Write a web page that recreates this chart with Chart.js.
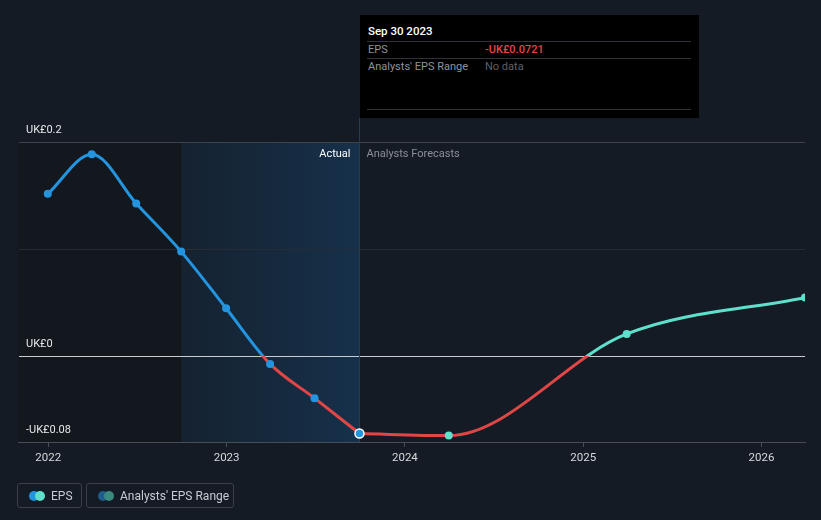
<!DOCTYPE html>
<html>
<head>
<meta charset="utf-8">
<script src="https://cdn.jsdelivr.net/npm/chart.js@4/dist/chart.umd.min.js"></script>
<style>
  html, body { margin: 0; padding: 0; background: #151b24; }
  #wrap { position: relative; width: 821px; height: 520px; font-family: Roboto, "Noto Sans", sans-serif; }
  #c { position: absolute; left: 0; top: 0; }
  #tip { position: absolute; left: 360px; top: 15px; width: 339px; height: 103px; background: #000; font-size: 11px; }
  #tip .row { position: absolute; left: 7px; right: 8px; border-top: 1px solid #2e3238; }
  #tip .t { position: absolute; white-space: nowrap; line-height: 13px; }
  .leg { position: absolute; top: 483px; height: 25px; border: 1px solid #3a3f48; border-radius: 3px; box-sizing: border-box; color: #c8ccd2; font-size: 12px; }
  .leg .dot { position: absolute; top: 7px; width: 10px; height: 10px; border-radius: 50%; }
  .leg .lt { position: absolute; top: 5px; white-space: nowrap; line-height: 14px; }
</style>
</head>
<body>
<div id="wrap">
  <canvas id="c" width="821" height="520"></canvas>
  <div id="tip">
    <div class="t" style="left:8px;top:10px;color:#fff;font-size:11.5px;font-weight:500;">Sep 30 2023</div>
    <div class="row" style="top:26px;"></div>
    <div class="t" style="left:8px;top:28px;color:#8f939a;">EPS</div>
    <div class="t" style="left:125px;top:28px;color:#e84545;font-weight:500;">-UK£0.0721</div>
    <div class="row" style="top:43px;"></div>
    <div class="t" style="left:8px;top:45px;color:#8f939a;">Analysts' EPS Range</div>
    <div class="t" style="left:125px;top:45px;color:#5d6168;">No data</div>
    <div class="row" style="top:94px;"></div>
  </div>
  <div class="leg" style="left:17px;width:65px;">
    <div class="dot" style="left:11px;background:#2394df;"></div>
    <div class="dot" style="left:17px;background:#5ee0cc;"></div>
    <div class="lt" style="left:33px;">EPS</div>
  </div>
  <div class="leg" style="left:86px;width:148px;">
    <div class="dot" style="left:11px;background:#1f5d8e;"></div>
    <div class="dot" style="left:17px;background:#3b8a80;"></div>
    <div class="lt" style="left:33px;">Analysts' EPS Range</div>
  </div>
</div>
<script>
// ---- data ----
const actualDates = ['2021-12-31','2022-03-31','2022-06-30','2022-09-30','2022-12-31','2023-03-31','2023-06-30','2023-09-30'];
const actualEps   = [0.152, 0.189, 0.143, 0.098, 0.045, -0.007, -0.039, -0.0721];
const forecastDates = ['2023-09-30','2024-03-31','2025-03-31','2026-03-31'];
const forecastEps   = [-0.0721, -0.074, 0.021, 0.055];
const yearTicks = [2022, 2023, 2024, 2025, 2026];
const yTickLabels = [
  { value: 0.2, label: 'UK£0.2' },
  { value: 0, label: 'UK£0' },
  { value: -0.08, label: '-UK£0.08' }
];
const shadeStart = '2022-09-30';
const todayDate = '2023-09-30';

// ---- helpers ----
function toYear(s) {
  const d = new Date(s + 'T00:00:00Z');
  const y = d.getUTCFullYear();
  const start = Date.UTC(y, 0, 1), end = Date.UTC(y + 1, 0, 1);
  return y + (d.getTime() - start) / (end - start);
}
const BLUE = '#2394df', TEAL = '#5ee0cc', RED = '#e04646';

function splitGradient(above) {
  return (ctx) => {
    const chart = ctx.chart;
    const ca = chart.chartArea;
    if (!ca) return above;
    const y0 = chart.scales.y.getPixelForValue(0);
    const g = chart.ctx.createLinearGradient(0, ca.top, 0, ca.bottom);
    let f = (y0 - ca.top) / (ca.bottom - ca.top);
    f = Math.max(0, Math.min(1, f));
    g.addColorStop(0, above);
    g.addColorStop(f, above);
    g.addColorStop(f, RED);
    g.addColorStop(1, RED);
    return g;
  };
}

const actualData = actualDates.map((d, i) => ({ x: toYear(d), y: actualEps[i] }));
const forecastData = forecastDates.map((d, i) => ({ x: toYear(d), y: forecastEps[i] }));
const lastIdx = actualData.length - 1;

const bgPlugin = {
  id: 'bg',
  beforeDraw(chart) {
    const { ctx, chartArea: ca, scales: { x } } = chart;
    const xs = x.getPixelForValue(toYear(shadeStart));
    const xt = x.getPixelForValue(toYear(todayDate));
    ctx.save();
    ctx.fillStyle = '#13171e';
    ctx.fillRect(ca.left, ca.top, xs - ca.left, ca.bottom - ca.top);
    const g = ctx.createLinearGradient(xs, 0, xt, 0);
    g.addColorStop(0, 'rgba(25,70,110,0.18)');
    g.addColorStop(1, 'rgba(25,80,130,0.42)');
    ctx.fillStyle = g;
    ctx.fillRect(xs, ca.top, xt - xs, ca.bottom - ca.top);
    ctx.restore();
  },
  beforeDatasetsDraw(chart) {
    const { ctx, chartArea: ca, scales: { x } } = chart;
    const xt = Math.round(x.getPixelForValue(toYear(todayDate))) + 0.5;
    ctx.save();
    ctx.strokeStyle = '#283c50';
    ctx.lineWidth = 1;
    ctx.beginPath();
    ctx.moveTo(xt, 118);
    ctx.lineTo(xt, ca.bottom);
    ctx.stroke();
    ctx.restore();
  },
  afterDraw(chart) {
    const { ctx, scales: { x, y } } = chart;
    const xt = x.getPixelForValue(toYear(todayDate));
    ctx.save();
    ctx.font = '11px Roboto, "Noto Sans", sans-serif';
    ctx.textBaseline = 'middle';
    ctx.textAlign = 'right';
    ctx.fillStyle = '#ffffff';
    ctx.fillText('Actual', xt - 9, 154);
    ctx.textAlign = 'left';
    ctx.fillStyle = '#8a8f96';
    ctx.fillText('Analysts Forecasts', xt + 7, 154);
    ctx.fillStyle = '#e6e8ea';
    ctx.textBaseline = 'middle';
    yTickLabels.forEach(t => {
      ctx.fillText(t.label, 26, y.getPixelForValue(t.value) - 12);
    });
    ctx.restore();
  }
};

new Chart(document.getElementById('c'), {
  type: 'line',
  data: {
    datasets: [
      {
        label: 'EPS',
        data: actualData,
        borderColor: splitGradient(BLUE),
        borderWidth: 3,
        cubicInterpolationMode: 'monotone',
        pointRadius: actualData.map((p, i) => i === lastIdx ? 4.5 : 4),
        pointBackgroundColor: BLUE,
        pointBorderColor: actualData.map((p, i) => i === lastIdx ? '#ffffff' : BLUE),
        pointBorderWidth: actualData.map((p, i) => i === lastIdx ? 1.5 : 0),
        order: 1
      },
      {
        label: 'Forecast',
        data: forecastData,
        borderColor: splitGradient(TEAL),
        borderWidth: 3,
        cubicInterpolationMode: 'monotone',
        pointRadius: forecastData.map((p, i) => i === 0 ? 0 : 4),
        pointBackgroundColor: TEAL,
        pointBorderWidth: 0,
        order: 2
      }
    ]
  },
  options: {
    responsive: false,
    animation: false,
    events: [],
    layout: { padding: { left: 18.5, right: 16, top: 142.5, bottom: 48 } },
    plugins: { legend: { display: false }, tooltip: { enabled: false } },
    scales: {
      x: {
        type: 'linear',
        min: 2021.833,
        max: toYear('2026-03-31'),
        afterBuildTicks: (s) => { s.ticks = yearTicks.map(v => ({ value: v })); },
        afterFit: (s) => { s.height = 30; },
        grid: { drawOnChartArea: false, drawTicks: true, tickLength: 5, color: '#474c55' },
        border: { color: '#474c55', width: 1 },
        ticks: {
          color: '#d6d8db',
          font: { family: 'Roboto', size: 11.5 },
          padding: 4,
          maxRotation: 0,
          callback: (v) => String(v)
        }
      },
      y: {
        min: -0.08,
        max: 0.2,
        afterBuildTicks: (s) => { s.ticks = [-0.08, 0, 0.1, 0.2].map(v => ({ value: v })); },
        afterFit: (s) => { s.width = 0; },
        ticks: { display: false },
        border: { display: false },
        grid: {
          drawTicks: false,
          color: (c) => c.tick.value === 0 ? '#c9cbcf' : (c.tick.value === 0.2 ? '#3d424b' : (c.tick.value === -0.08 ? 'rgba(0,0,0,0)' : '#262c35')),
          lineWidth: 1
        }
      }
    }
  },
  plugins: [bgPlugin]
});
</script>
</body>
</html>
